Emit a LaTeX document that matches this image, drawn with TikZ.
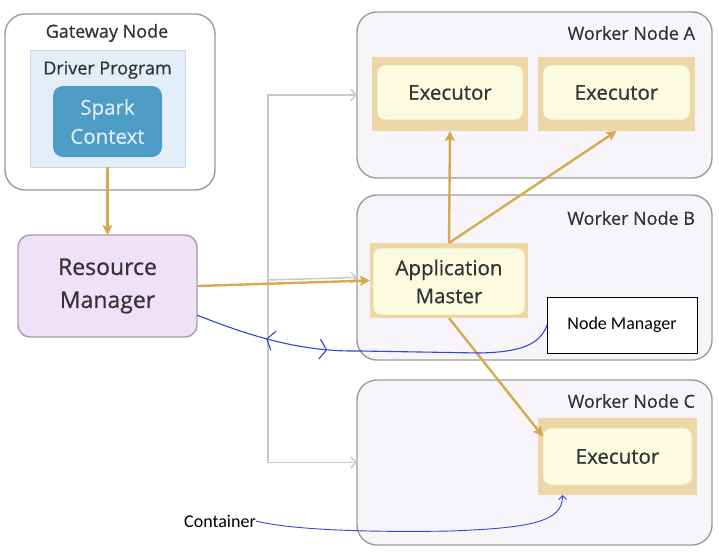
\documentclass[tikz,border=0pt]{standalone}
\usepackage{fontspec}
\setmainfont[FakeBold=0.6]{Open Sans}
\newfontfamily\annofont{Carlito}
\usetikzlibrary{arrows.meta,decorations.markings}
\definecolor{workerfill}{HTML}{F7F5F9}
\definecolor{boxline}{HTML}{9C9C9C}
\definecolor{driverfill}{HTML}{E4EEF9}
\definecolor{driverline}{HTML}{C8D8EA}
\definecolor{sparkfill}{HTML}{4C9CC5}
\definecolor{sparktext}{HTML}{DCEEF8}
\definecolor{rmfill}{HTML}{EFE1F7}
\definecolor{rmline}{HTML}{A89CB2}
\definecolor{tan}{HTML}{EFD6A6}
\definecolor{execfill}{HTML}{FAFBDF}
\definecolor{execline}{HTML}{E6DDAE}
\definecolor{gold}{HTML}{D6AA4E}
\definecolor{grayline}{HTML}{C9C9C9}
\definecolor{pen}{HTML}{3446D2}
\definecolor{label}{HTML}{333333}

\begin{document}
\begin{tikzpicture}[x=1pt, y=-1pt,
  every node/.style={inner sep=0pt, outer sep=0pt},
  box/.style={draw=boxline, line width=1.4pt, rounded corners=20pt},
  title/.style={text=label, font=\fontsize{18}{20}\selectfont},
  outerexec/.style={fill=tan},
  exec/.style={fill=execfill, draw=execline, line width=0.8pt, rounded corners=8pt, text=label, font=\fontsize{20.5}{24}\selectfont},
  goldarrow/.style={draw=gold, line width=2.4pt, -{Stealth[length=10pt, width=10pt, inset=2pt]}},
  grayarrow/.style={draw=grayline, line width=1.5pt, -{Straight Barb[length=5pt, width=11pt]}},
  bluepen/.style={draw=pen, line width=1.1pt}]
  \useasboundingbox (0,0) rectangle (719,557);
  \node [box, fill=white, minimum width=210pt, minimum height=176pt] (gw) at (110,102) {};
  \node [title] (gwt) at (107,33) {Gateway Node};
  \node [fill=driverfill, draw=driverline, minimum width=155pt, minimum height=117pt] (dp) at (107.5,108.5) {};
  \node [title] (dpt) at (107.5,70) {Driver Program};
  \node [fill=sparkfill, rounded corners=10pt, minimum width=109pt, minimum height=71pt, text=sparktext, align=center, font=\fontsize{20.5}{29}\selectfont] (sc) at (107.5,121.5) {Spark\\Context};
  \node [box, fill=rmfill, draw=rmline, rounded corners=12pt, minimum width=179pt, minimum height=102pt, align=center, text=label, font=\fontsize{23}{33}\selectfont] (rm) at (107.5,286) {Resource\\Manager};
  \node [box, fill=workerfill, minimum width=355pt, minimum height=166pt] (wa) at (534.5,95) {};
  \node [box, fill=workerfill, minimum width=355pt, minimum height=165pt] (wb) at (534.5,277.5) {};
  \node [box, fill=workerfill, minimum width=355pt, minimum height=165pt] (wc) at (534.5,462.5) {};
  \node [title, anchor=east] (wat) at (695,33) {Worker Node A};
  \node [title, anchor=east] (wbt) at (695,218) {Worker Node B};
  \node [title, anchor=east] (wct) at (695,401) {Worker Node C};
  \node [outerexec, minimum width=156pt, minimum height=74pt] (exa1) at (450,94) {};
  \node [exec, minimum width=146pt, minimum height=55pt] (exa1in) at (450,92.5) {Executor};
  \node [outerexec, minimum width=157pt, minimum height=74pt] (exa2) at (616.5,94) {};
  \node [exec, minimum width=147pt, minimum height=55pt] (exa2in) at (616.5,92.5) {Executor};
  \node [outerexec, minimum width=158pt, minimum height=75pt] (am) at (449,280.5) {};
  \node [exec, minimum width=152pt, minimum height=67pt, align=center, font=\fontsize{20.5}{28}\selectfont] (amin) at (449,281.5) {Application\\Master};
  \node [outerexec, minimum width=159pt, minimum height=77pt] (exc) at (617.5,456.5) {};
  \node [exec, minimum width=149pt, minimum height=57pt] (excin) at (617.5,456.5) {Executor};
  \node [draw=black, line width=0.8pt, fill=white, minimum width=150pt, minimum height=56pt, font=\annofont\fontsize{18}{20}\selectfont] (nm) at (622,325) {Node Manager};
  \node [font=\annofont\fontsize{18}{20}\selectfont] (ct) at (220,521) {Container};
  \coordinate (split) at (268,280);
  \draw [grayarrow] (split) |- (wa.west);
  \draw [grayarrow] (split) |- (wc.west);
  \draw [grayarrow] (split) -- (wb.west);
  \draw [goldarrow] (dp.south) -- (rm.north);
  \draw [goldarrow] (rm.east) -- (am.west);
  \draw [goldarrow] (am.north) -- (exa1.south);
  \draw [goldarrow] (am.north) -- (exa2.south);
  \draw [goldarrow] (am.south) -- (excin.165);
  \draw [bluepen, decoration={markings,
      mark=at position 0.2 with {\arrowreversed{Straight Barb[length=7pt, width=20pt]}},
      mark=at position 0.37 with {\arrow{Straight Barb[length=7pt, width=20pt]}}},
    postaction={decorate}]
    (rm.-18) .. controls (250,336) and (300,352) .. (360,351)
    -- (480,353) .. controls (520,352) and (540,345) .. (nm.west);
  \draw [bluepen, line width=0.9pt, -{Straight Barb[length=4pt, width=8pt]}]
    (ct.east) .. controls (300,532) and (400,532) .. (450,531)
    .. controls (530,528) and (563,522) .. (exc.215);
\end{tikzpicture}
\end{document}
